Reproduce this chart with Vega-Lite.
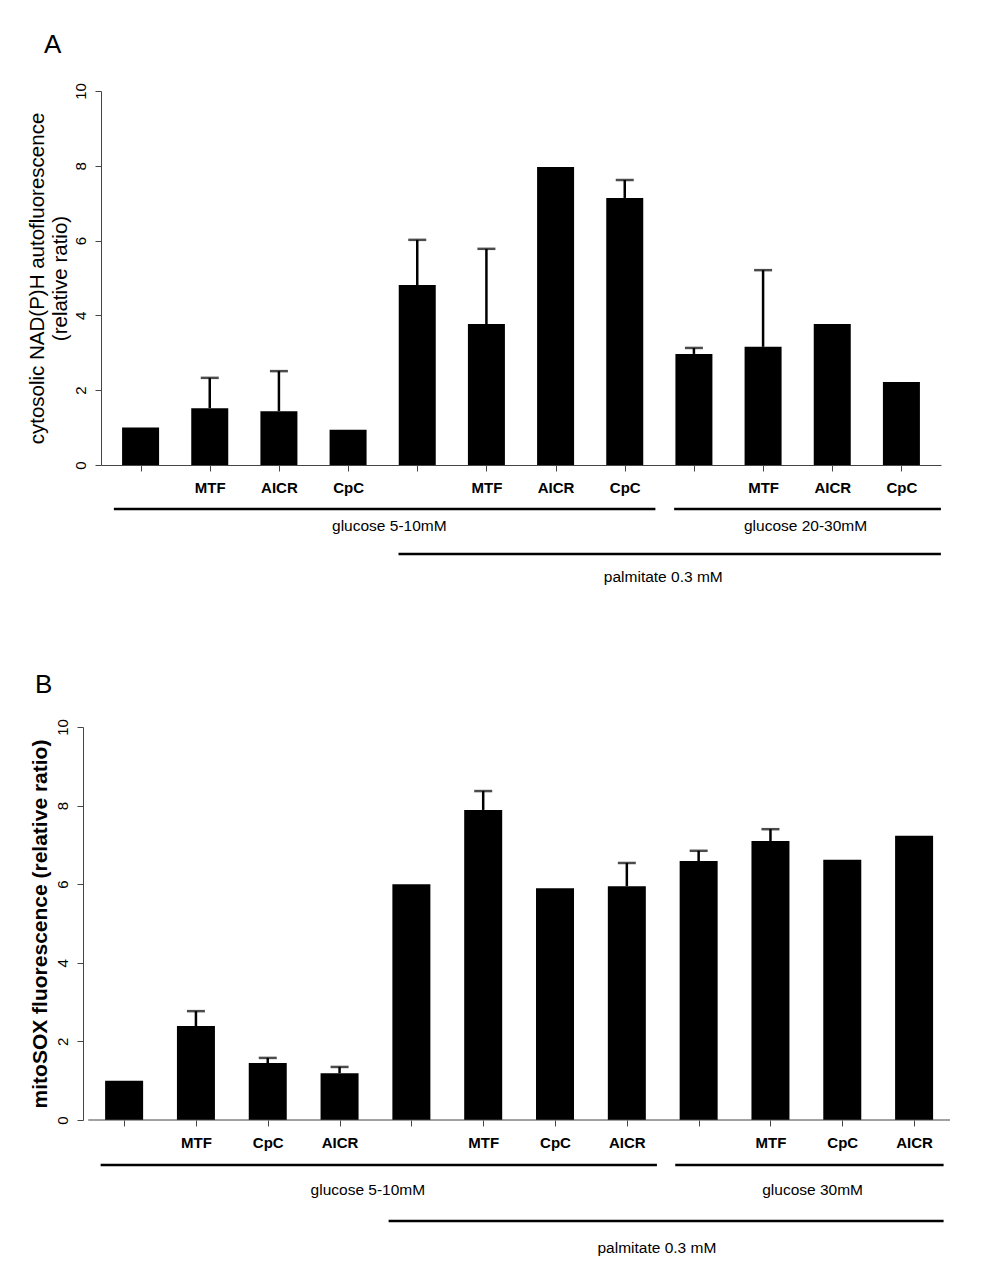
{
  "$schema": "https://vega.github.io/schema/vega-lite/v6.json",
  "background": "white",
  "padding": {"left": 27, "top": 31, "right": 5, "bottom": 5},
  "config": {
    "view": {"stroke": null},
    "font": "Liberation Sans",
    "axis": {"grid": false, "domainColor": "#444", "tickColor": "#444", "labelColor": "black", "titleColor": "black"},
    "title": {"color": "black"}
  },
  "datasets": {
    "nadph": [
      {"pos": 1, "treatment": "", "mean": 1.0},
      {"pos": 2, "treatment": "MTF", "mean": 1.52, "upper": 2.33},
      {"pos": 3, "treatment": "AICR", "mean": 1.44, "upper": 2.51},
      {"pos": 4, "treatment": "CpC", "mean": 0.94},
      {"pos": 5, "treatment": "", "mean": 4.81, "upper": 6.02},
      {"pos": 6, "treatment": "MTF", "mean": 3.77, "upper": 5.78},
      {"pos": 7, "treatment": "AICR", "mean": 7.97},
      {"pos": 8, "treatment": "CpC", "mean": 7.14, "upper": 7.62},
      {"pos": 9, "treatment": "", "mean": 2.97, "upper": 3.13},
      {"pos": 10, "treatment": "MTF", "mean": 3.16, "upper": 5.21},
      {"pos": 11, "treatment": "AICR", "mean": 3.77},
      {"pos": 12, "treatment": "CpC", "mean": 2.22}
    ],
    "nadph_lines": [
      {"from": 0.614, "to": 8.443, "level": -1.176},
      {"from": 8.714, "to": 12.571, "level": -1.176},
      {"from": 4.729, "to": 12.571, "level": -2.38}
    ],
    "nadph_text": [
      {"at": 4.596, "level": -1.631, "label": "glucose  5-10mM"},
      {"at": 10.614, "level": -1.631, "label": "glucose  20-30mM"},
      {"at": 8.557, "level": -2.995, "label": "palmitate 0.3 mM"}
    ],
    "mitosox": [
      {"pos": 1, "treatment": "", "mean": 1.0},
      {"pos": 2, "treatment": "MTF", "mean": 2.39, "upper": 2.77},
      {"pos": 3, "treatment": "CpC", "mean": 1.45, "upper": 1.58},
      {"pos": 4, "treatment": "AICR", "mean": 1.19, "upper": 1.35},
      {"pos": 5, "treatment": "", "mean": 6.0},
      {"pos": 6, "treatment": "MTF", "mean": 7.89, "upper": 8.37},
      {"pos": 7, "treatment": "CpC", "mean": 5.9},
      {"pos": 8, "treatment": "AICR", "mean": 5.95, "upper": 6.54},
      {"pos": 9, "treatment": "", "mean": 6.59, "upper": 6.85},
      {"pos": 10, "treatment": "MTF", "mean": 7.1, "upper": 7.4},
      {"pos": 11, "treatment": "CpC", "mean": 6.62},
      {"pos": 12, "treatment": "AICR", "mean": 7.23}
    ],
    "mitosox_lines": [
      {"from": 0.673, "to": 8.419, "level": -1.145},
      {"from": 8.674, "to": 12.411, "level": -1.145},
      {"from": 4.683, "to": 12.411, "level": -2.57}
    ],
    "mitosox_text": [
      {"at": 4.394, "level": -1.781, "label": "glucose  5-10mM"},
      {"at": 10.587, "level": -1.781, "label": "glucose  30mM"},
      {"at": 8.419, "level": -3.257, "label": "palmitate 0.3 mM"}
    ],
    "mitosox_base": [
      {"from": 0.5, "to": 12.5, "level": 0}
    ]
  },
  "spacing": 85,
  "vconcat": [
    {
      "title": {"text": "A", "anchor": "start", "frame": "bounds", "fontSize": 26, "fontWeight": "normal", "offset": 25, "dx": 17},
      "width": 840,
      "height": 374,
      "layer": [
        {
          "data": {"name": "nadph"},
          "mark": {"type": "bar", "size": 37, "color": "black"},
          "encoding": {
            "x": {"field": "pos", "type": "quantitative", "scale": {"domain": [0.5, 12.5], "nice": false, "zero": false},
              "axis": {"values": [1,2,3,4,5,6,7,8,9,10,11,12], "labelExpr": "['','MTF','AICR','CpC'][(datum.value-1)%4]", "title": null, "labelFontSize": 15, "labelFontWeight": "bold", "tickSize": 6, "labelPadding": 9, "labelFlush": false, "labelOverlap": false}},
            "y": {"field": "mean", "type": "quantitative", "scale": {"domain": [0, 10], "nice": false},
              "axis": {"values": [0,2,4,6,8,10], "labelAngle": -90, "labelFontSize": 15, "labelPadding": 7, "tickSize": 6, "labelFlush": false,
                "title": ["cytosolic NAD(P)H autofluorescence", "(relative ratio)"], "titleFontSize": 20.5, "titleFontWeight": "normal", "titleLineHeight": 23, "titlePadding": 3}}
          }
        },
        {
          "data": {"name": "nadph"},
          "transform": [{"filter": "isValid(datum.upper)"}],
          "mark": {"type": "rule", "strokeWidth": 2.5, "color": "black"},
          "encoding": {
            "x": {"field": "pos", "type": "quantitative"},
            "y": {"field": "mean", "type": "quantitative"},
            "y2": {"field": "upper"}
          }
        },
        {
          "data": {"name": "nadph"},
          "transform": [{"filter": "isValid(datum.upper)"}],
          "mark": {"type": "tick", "orient": "horizontal", "size": 18, "thickness": 2.5, "color": "black"},
          "encoding": {
            "x": {"field": "pos", "type": "quantitative"},
            "y": {"field": "upper", "type": "quantitative"}
          }
        },
        {
          "data": {"name": "nadph_lines"},
          "mark": {"type": "rule", "strokeWidth": 2.5, "color": "black"},
          "encoding": {
            "x": {"field": "from", "type": "quantitative"},
            "x2": {"field": "to"},
            "y": {"field": "level", "type": "quantitative"}
          }
        },
        {
          "data": {"name": "nadph_text"},
          "mark": {"type": "text", "fontSize": 15.5, "color": "black", "align": "center", "baseline": "middle"},
          "encoding": {
            "x": {"field": "at", "type": "quantitative"},
            "y": {"field": "level", "type": "quantitative"},
            "text": {"field": "label"}
          }
        }
      ]
    },
    {
      "title": {"text": "B", "anchor": "start", "frame": "bounds", "fontSize": 26, "fontWeight": "normal", "offset": 21, "dx": 6},
      "width": 854,
      "height": 393,
      "layer": [
        {
          "data": {"name": "mitosox"},
          "mark": {"type": "bar", "size": 38, "color": "black"},
          "encoding": {
            "x": {"field": "pos", "type": "quantitative", "scale": {"domain": [0.7477, 12.5], "nice": false, "zero": false},
              "axis": {"values": [1,2,3,4,5,6,7,8,9,10,11,12], "labelExpr": "['','MTF','CpC','AICR'][(datum.value-1)%4]", "title": null, "domain": false, "labelFontSize": 15, "labelFontWeight": "bold", "tickSize": 6, "labelPadding": 9, "labelFlush": false, "labelOverlap": false}},
            "y": {"field": "mean", "type": "quantitative", "scale": {"domain": [0, 10], "nice": false},
              "axis": {"values": [0,2,4,6,8,10], "offset": 18, "labelAngle": -90, "labelFontSize": 15, "labelPadding": 7, "tickSize": 6, "labelFlush": false,
                "title": "mitoSOX fluorescence (relative ratio)", "titleFontSize": 21, "titleFontWeight": "bold", "titlePadding": 5}}
          }
        },
        {
          "data": {"name": "mitosox"},
          "transform": [{"filter": "isValid(datum.upper)"}],
          "mark": {"type": "rule", "strokeWidth": 2.5, "color": "black"},
          "encoding": {
            "x": {"field": "pos", "type": "quantitative"},
            "y": {"field": "mean", "type": "quantitative"},
            "y2": {"field": "upper"}
          }
        },
        {
          "data": {"name": "mitosox"},
          "transform": [{"filter": "isValid(datum.upper)"}],
          "mark": {"type": "tick", "orient": "horizontal", "size": 18, "thickness": 2.5, "color": "black"},
          "encoding": {
            "x": {"field": "pos", "type": "quantitative"},
            "y": {"field": "upper", "type": "quantitative"}
          }
        },
        {
          "data": {"name": "mitosox_base"},
          "mark": {"type": "rule", "strokeWidth": 1, "color": "#444"},
          "encoding": {
            "x": {"field": "from", "type": "quantitative"},
            "x2": {"field": "to"},
            "y": {"field": "level", "type": "quantitative"}
          }
        },
        {
          "data": {"name": "mitosox_lines"},
          "mark": {"type": "rule", "strokeWidth": 2.5, "color": "black"},
          "encoding": {
            "x": {"field": "from", "type": "quantitative"},
            "x2": {"field": "to"},
            "y": {"field": "level", "type": "quantitative"}
          }
        },
        {
          "data": {"name": "mitosox_text"},
          "mark": {"type": "text", "fontSize": 15.5, "color": "black", "align": "center", "baseline": "middle"},
          "encoding": {
            "x": {"field": "at", "type": "quantitative"},
            "y": {"field": "level", "type": "quantitative"},
            "text": {"field": "label"}
          }
        }
      ]
    }
  ]
}
